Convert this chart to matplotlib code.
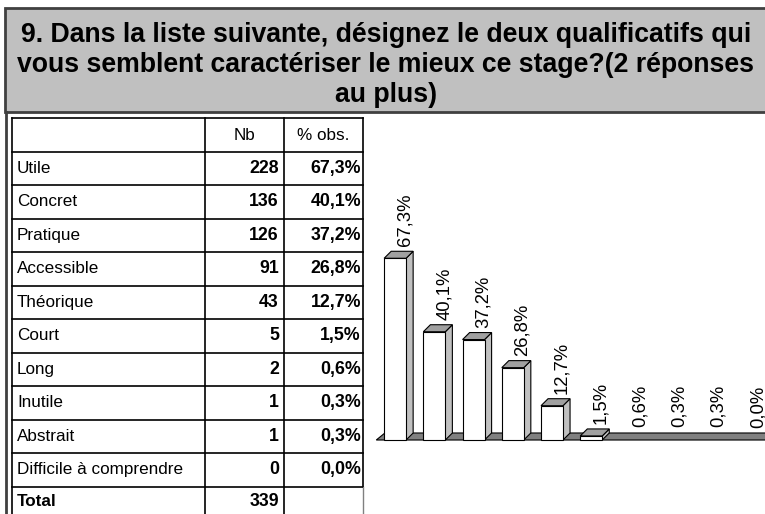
import matplotlib.pyplot as plt
from matplotlib.patches import Polygon, Rectangle

plt.rcParams['font.family'] = ['Liberation Sans', 'DejaVu Sans']

title = ("9. Dans la liste suivante, désignez le deux qualificatifs qui\n"
         "vous semblent caractériser le mieux ce stage?(2 réponses\n"
         "au plus)")
categories = ["Utile", "Concret", "Pratique", "Accessible", "Théorique",
              "Court", "Long", "Inutile", "Abstrait", "Difficile à comprendre"]
counts = [228, 136, 126, 91, 43, 5, 2, 1, 1, 0]
pct = [67.3, 40.1, 37.2, 26.8, 12.7, 1.5, 0.6, 0.3, 0.3, 0.0]
total = 339
headers = ["", "Nb", "% obs."]

W, H = 765, 514
fig = plt.figure(figsize=(W / 100, H / 100), dpi=100)

# background axes in pixel units for the frame, title and table
bg = fig.add_axes([0, 0, 1, 1])
bg.set_xlim(0, W)
bg.set_ylim(H, 0)
bg.axis('off')

# title box
bg.add_patch(Rectangle((5, 8), 800, 104, facecolor='#c0c0c0', edgecolor='#404040', lw=2))
bg.text(386, 65, title, ha='center', va='center', fontsize=19.2, fontweight='bold',
        linespacing=1.2)
# left frame line
bg.plot([6, 6], [112, H], color='#404040', lw=2)

# table
col_x = [12, 205, 284, 363]
top = 118
row_h = 33.5
n_rows = len(categories) + 2
row_y = [top + i * row_h for i in range(n_rows + 1)]
row_y[1] = 152

for y in row_y:
    bg.plot([col_x[0], col_x[-1]], [y, y], color='black', lw=1.2)
for x in col_x[:-1]:
    bg.plot([x, x], [top, H], color='black', lw=1.2)
bg.plot([col_x[-1], col_x[-1]], [top, row_y[-2]], color='black', lw=1.2)
bg.plot([col_x[-1], col_x[-1]], [row_y[-2], H], color='#808080', lw=1)

fs = 12.3
bg.text((col_x[1] + col_x[2]) / 2, (row_y[0] + row_y[1]) / 2, headers[1],
        ha='center', va='center', fontsize=fs)
bg.text((col_x[2] + col_x[3]) / 2, (row_y[0] + row_y[1]) / 2, headers[2],
        ha='center', va='center', fontsize=fs)
for i, (c, n, p) in enumerate(zip(categories, counts, pct)):
    yc = (row_y[i + 1] + row_y[i + 2]) / 2
    bg.text(col_x[0] + 5, yc, c, ha='left', va='center', fontsize=fs)
    bg.text(col_x[2] - 5, yc, str(n), ha='right', va='center', fontsize=fs + 0.5,
            fontweight='bold')
    bg.text(col_x[3] - 2, yc, f"{p:.1f}%".replace('.', ','), ha='right', va='center',
            fontsize=fs + 0.5, fontweight='bold')
yc = row_y[-2] + 15
bg.text(col_x[0] + 5, yc, "Total", ha='left', va='center', fontsize=fs, fontweight='bold')
bg.text(col_x[2] - 5, yc, str(total), ha='right', va='center', fontsize=fs + 0.5,
        fontweight='bold')

# 3d-like bar chart
ax = fig.add_axes([370 / W, (H - 450) / H, (W - 370) / W, 270 / H])
ax.set_xlim(-0.64, 9.43)
ax.set_ylim(-3.7, 96.3)
ax.axis('off')

width = 0.56
dx, dy = 0.18, 2.6
x = list(range(len(pct)))

# floor (drawn over bars too small to show)
ax.add_patch(Polygon([(-0.48, 0), (-0.48 + dx + 0.04, dy), (9.6, dy), (9.6, 0)],
                     closed=True, facecolor='#808080', edgecolor='black', lw=0.8, zorder=2.5))

for xi, v in zip(x, pct):
    if v < 1:
        # too thin to show above the floor
        continue
    ax.bar(xi, v, width=width, color='white', edgecolor='black', lw=0.8, zorder=3.5)
    l, r = xi - width / 2, xi + width / 2
    ax.add_patch(Polygon([(r, 0), (r + dx, dy), (r + dx, v + dy), (r, v)], closed=True,
                         facecolor='#c0c0c0', edgecolor='black', lw=0.8, zorder=3))
    ax.add_patch(Polygon([(l, v), (l + dx, v + dy), (r + dx, v + dy), (r, v)], closed=True,
                         facecolor='#a0a0a0', edgecolor='black', lw=0.8, zorder=3))

for xi, v in zip(x, pct):
    ax.text(xi + 0.25, v + dy + 1.8, f"{v:.1f}%".replace('.', ','), rotation=90,
            ha='center', va='bottom', fontsize=13.3)

fig.savefig('out.png', dpi=100)
